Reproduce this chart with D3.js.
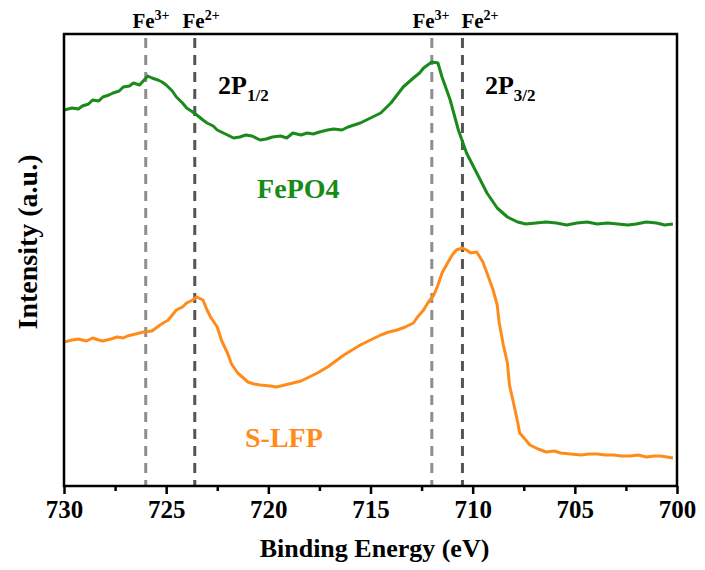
<!DOCTYPE html>
<html lang="en">
<head>
<meta charset="UTF-8">
<title>Fe 2p XPS</title>
<script src="https://d3js.org/d3.v7.min.js"></script>
<style>
  body { margin: 0; background: #fff; }
  text { font-family: "Liberation Serif", "Times New Roman", serif; font-weight: bold; }
</style>
</head>
<body>
<svg width="705" height="570"></svg>
<script>
// binding energy (eV) and intensity (a.u.)
var fepo4E = [730.0, 729.6, 729.3, 729.1, 728.8, 728.6, 728.3, 728.1, 727.8, 727.6, 727.3, 727.1, 726.8, 726.6, 726.3, 725.9,
  725.7, 725.4, 725.2, 725.0, 724.7, 724.5, 724.2, 724.0, 723.7, 723.5, 723.2, 723.0, 722.7, 722.5, 722.2, 722.0, 721.7, 721.4,
  721.1, 720.8, 720.4, 720.1, 719.8, 719.4, 719.1, 718.8, 718.4, 718.1, 717.8, 717.5, 717.1, 716.8, 716.4, 716.1, 715.8, 715.5,
  715.2, 714.9, 714.5, 714.0, 713.7, 713.4, 712.9, 712.6, 712.4, 712.0, 711.7, 711.5, 711.1, 710.7, 710.3, 709.8, 709.3, 708.8,
  708.3, 707.8, 707.4, 706.9, 706.4, 705.9, 705.4, 704.9, 704.4, 703.9, 703.4, 702.9, 702.4, 702.0, 701.5, 701.0, 700.6, 700.2];
var fepo4I = [376, 378, 377, 380, 382, 386, 385, 389, 391, 393, 395, 399, 400, 403, 401, 410,
  408, 406, 404, 401, 395, 389, 383, 378, 374, 371, 366, 363, 360, 356, 353, 351, 348, 349,
  351, 350, 346, 347, 349, 350, 348, 353, 351, 353, 352, 354, 356, 357, 356, 359, 361, 363,
  366, 369, 373, 383, 391, 399, 408, 413, 418, 424, 423, 409, 386, 356, 333, 313, 293, 278,
  269, 264, 262, 263, 264, 263, 261, 263, 264, 262, 263, 262, 261, 262, 264, 263, 261, 262];

var slfpE = [730.0, 729.6, 729.3, 728.9, 728.6, 728.3, 728.1, 727.7, 727.4, 727.1, 726.9, 726.5, 726.1, 725.7, 725.3, 724.9,
  724.5, 724.2, 724.0, 723.7, 723.5, 723.2, 723.0, 722.8, 722.5, 722.3, 722.0, 721.8, 721.5, 721.0, 720.7, 720.4, 719.9, 719.6,
  719.2, 718.8, 718.4, 718.0, 717.6, 717.1, 716.7, 716.3, 715.9, 715.5, 715.0, 714.5, 714.1, 713.7, 713.3, 712.9, 712.7, 712.4,
  712.2, 711.9, 711.7, 711.5, 711.2, 711.0, 710.8, 710.5, 710.3, 710.1, 709.8, 709.5, 709.3, 709.0, 708.8, 708.7, 708.5, 708.3,
  708.2, 708.0, 707.8, 707.7, 707.4, 707.2, 706.8, 706.4, 706.0, 705.7, 705.2, 704.7, 704.3, 703.9, 703.5, 703.1, 702.7, 702.3,
  701.9, 701.5, 701.1, 700.8, 700.5, 700.2];
var slfpI = [144, 146, 147, 145, 148, 146, 145, 147, 149, 148, 150, 152, 154, 155, 161, 166,
  176, 179, 183, 186, 189, 186, 176, 168, 159, 146, 133, 122, 113, 104, 102, 101, 100, 99,
  101, 103, 105, 109, 113, 119, 125, 131, 136, 141, 146, 151, 154, 156, 159, 163, 169, 176,
  183, 191, 201, 213, 224, 231, 236, 238, 236, 233, 234, 224, 213, 196, 181, 163, 141, 123,
  101, 83, 64, 53, 46, 41, 37, 34, 35, 33, 32, 31, 32, 32, 31, 31, 30, 30,
  31, 29, 30, 30, 29, 28];

var xTicks = [730, 725, 720, 715, 710, 705, 700];
var xMinor = [727.5, 722.5, 717.5, 712.5, 707.5, 702.5];

// reference lines: Fe3+ / Fe2+ for 2p1/2 and 2p3/2
var refE = [726.0, 723.6, 712.0, 710.5];
var refColor = ["#8e8e8e", "#555555", "#8e8e8e", "#555555"];
var refLabel = ["3+", "2+", "3+", "2+"];
var refLabelE = [726.65, 724.2, 712.95, 710.55];

var svg = d3.select("svg"),
    margin = {top: 34, right: 28, bottom: 84, left: 64},
    width = +svg.attr("width") - margin.left - margin.right,
    height = +svg.attr("height") - margin.top - margin.bottom,
    g = svg.append("g").attr("transform", "translate(" + margin.left + "," + margin.top + ")");

var x = d3.scaleLinear().domain([730, 700]).range([0, width]);
var y = d3.scaleLinear().domain([0, 452]).range([height, 0]);

// dashed reference lines
g.selectAll(".ref")
  .data(refE)
  .enter().append("line")
  .attr("x1", function(d) { return x(d); })
  .attr("x2", function(d) { return x(d); })
  .attr("y1", 4)
  .attr("y2", height)
  .attr("stroke", function(d, i) { return refColor[i]; })
  .attr("stroke-width", 3)
  .attr("stroke-dasharray", "10,7");

var line = d3.line()
  .x(function(d) { return x(d[0]); })
  .y(function(d) { return y(d[1]); });

g.append("path")
  .datum(d3.zip(fepo4E, fepo4I))
  .attr("d", line)
  .attr("fill", "none")
  .attr("stroke", "#1a8a1a")
  .attr("stroke-width", 3)
  .attr("stroke-linejoin", "round");

g.append("path")
  .datum(d3.zip(slfpE, slfpI))
  .attr("d", line)
  .attr("fill", "none")
  .attr("stroke", "#ff8c1a")
  .attr("stroke-width", 3)
  .attr("stroke-linejoin", "round");

// frame
g.append("rect")
  .attr("width", width)
  .attr("height", height)
  .attr("fill", "none")
  .attr("stroke", "#000")
  .attr("stroke-width", 2.5);

// x axis
var xAxis = g.append("g")
  .attr("transform", "translate(0," + height + ")")
  .call(d3.axisBottom(x).tickValues(xTicks).tickSize(8).tickPadding(6).tickFormat(d3.format("d")));
xAxis.select(".domain").remove();
xAxis.selectAll("line").attr("stroke-width", 2.5);
xAxis.selectAll("text")
  .style("font-size", "25px")
  .style("font-family", "'Liberation Serif', 'Times New Roman', serif")
  .style("font-weight", "bold")
  .attr("fill", "#000");

g.append("g")
  .attr("transform", "translate(0," + height + ")")
  .call(d3.axisBottom(x).tickValues(xMinor).tickSize(5).tickFormat(""))
  .call(function(a) { a.select(".domain").remove(); a.selectAll("line").attr("stroke-width", 2.5); });

// axis titles
svg.append("text")
  .attr("x", margin.left + width / 2 + 4)
  .attr("y", 557)
  .attr("text-anchor", "middle")
  .style("font-size", "26px")
  .text("Binding Energy (eV)");

svg.append("text")
  .attr("transform", "translate(37,242) rotate(-90)")
  .attr("text-anchor", "middle")
  .style("font-size", "28px")
  .text("Intensity (a.u.)");

// Fe3+ / Fe2+ labels above the frame
var feLab = svg.selectAll(".fe")
  .data(refLabelE)
  .enter().append("text")
  .attr("x", function(d) { return margin.left + x(d); })
  .attr("y", 28)
  .style("font-size", "21px");
feLab.append("tspan").text("Fe");
feLab.append("tspan")
  .attr("dy", -8)
  .style("font-size", "14px")
  .text(function(d, i) { return refLabel[i]; });

// 2P labels
var peakLabE = [722.46, 709.4];
var peakSub = ["1/2", "3/2"];
var pk = g.selectAll(".pk")
  .data(peakLabE)
  .enter().append("text")
  .attr("x", function(d) { return x(d); })
  .attr("y", 94 - margin.top)
  .style("font-size", "26px");
pk.append("tspan").text("2P");
pk.append("tspan")
  .attr("dy", 7)
  .style("font-size", "17px")
  .text(function(d, i) { return peakSub[i]; });

// series names
g.append("text")
  .attr("x", x(720.55))
  .attr("y", 198 - margin.top)
  .attr("fill", "#178a17")
  .style("font-size", "28px")
  .text("FePO4");

g.append("text")
  .attr("x", x(721.14))
  .attr("y", 447 - margin.top)
  .attr("fill", "#ff8c1a")
  .style("font-size", "28px")
  .text("S-LFP");
</script>
</body>
</html>
